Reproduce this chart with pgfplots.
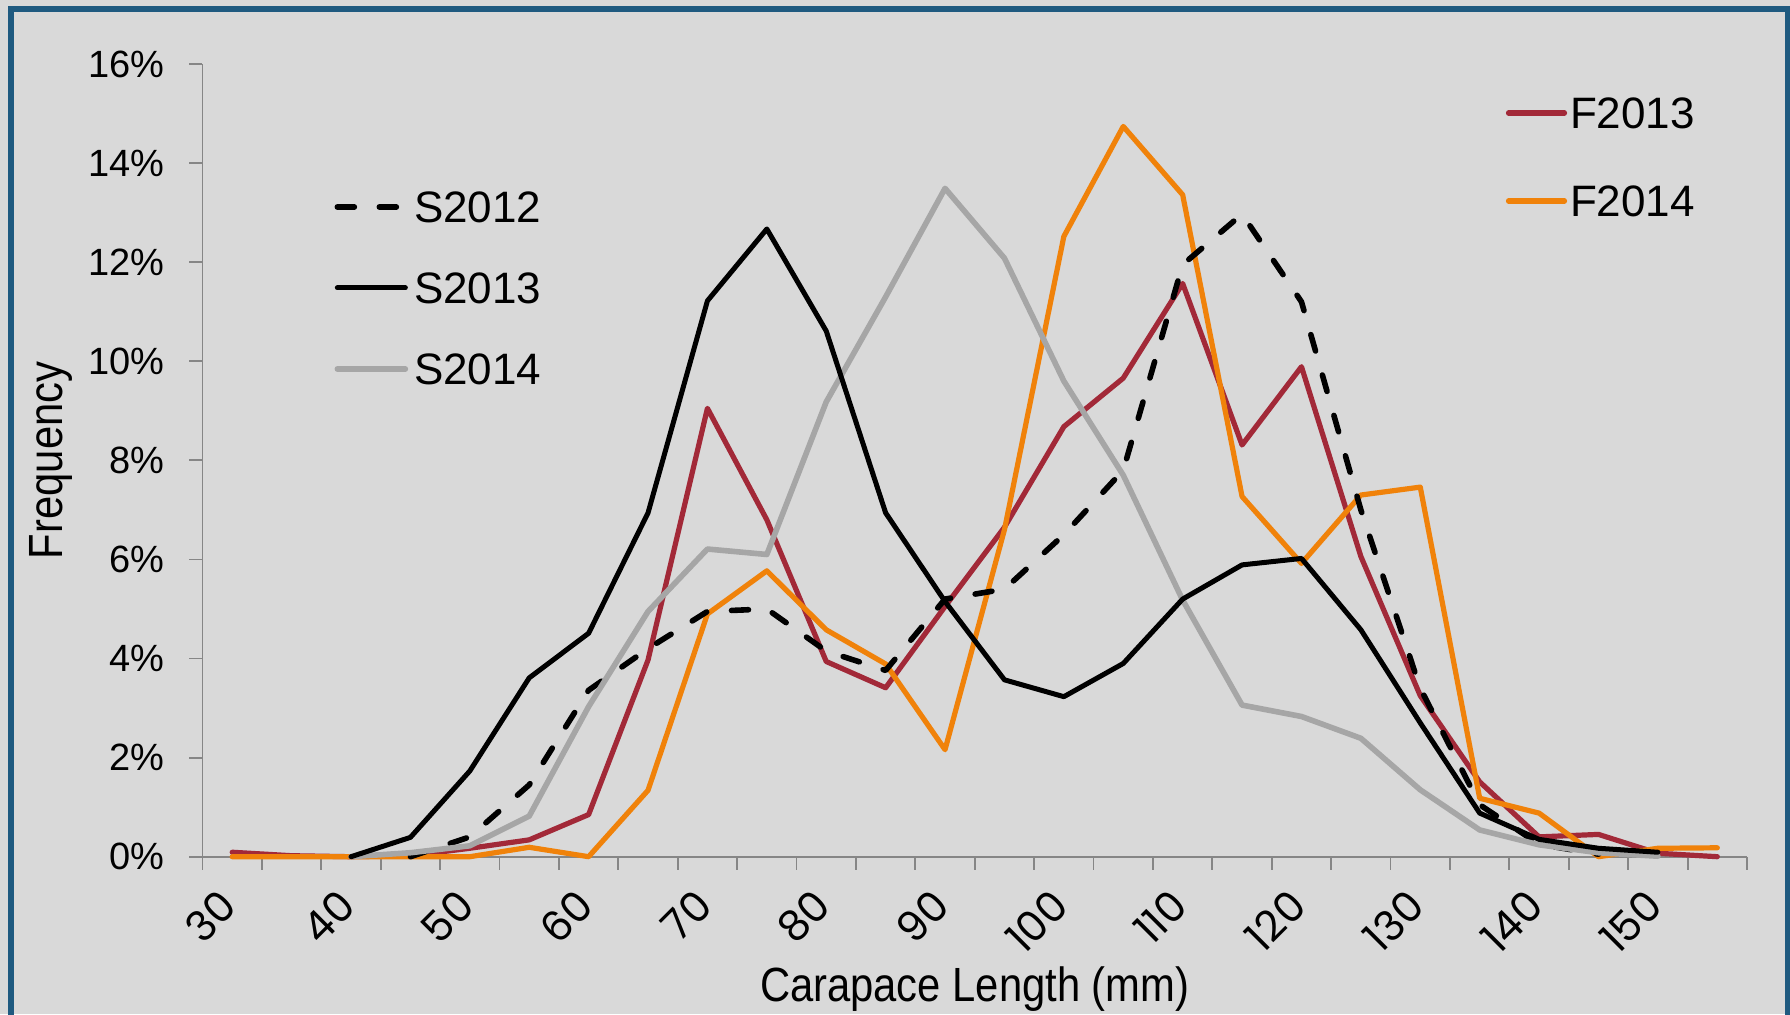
\documentclass[border=0pt]{standalone}
\usepackage{fontspec}
\setmainfont{Liberation Sans}
\newfontfamily\narrowfont{Liberation Sans}[FakeStretch=0.87]
\newfontfamily\popfont{Poppins}
\usepackage{pgfplots}
\pgfplotsset{compat=1.18}
\definecolor{bg}{RGB}{217,217,217}
\definecolor{framec}{RGB}{31,90,128}
\definecolor{axgray}{RGB}{134,134,134}
\definecolor{cred}{RGB}{162,41,56}
\definecolor{corange}{RGB}{240,130,10}
\definecolor{cgray}{RGB}{166,166,166}
\pgfplotsset{
  common/.style={
    at={(101.25pt,78.65pt)}, anchor=south west,
    scale only axis, width=772.25pt, height=396.35pt,
    xmin=27.5, xmax=157.5, ymin=0, ymax=16,
    clip=false,
  },
  legstyle/.style={
    draw=none, fill=none, inner sep=0pt, outer sep=0pt,
    font=\fontsize{22}{26}\selectfont,
    nodes={inner sep=0pt, outer sep=0pt, text height=15.2pt, text depth=0pt, anchor=west},
  },
}
\begin{document}
\begin{tikzpicture}
\useasboundingbox (0,0) rectangle (895pt,507pt);
\fill[bg] (0,0) rectangle (895pt,507pt);
\draw[framec, line width=3pt] (5.5pt,-20pt) rectangle (893.75pt,502.25pt);

% Axis A: decorations and F series
\begin{axis}[common,
  axis lines*=left,
  axis line style={axgray, line width=0.9pt},
  tick style={axgray, line width=0.9pt},
  tick align=outside,
  major tick length=6.5pt,
  xtick={27.5,32.5,...,157.5}, xticklabels={},
  extra x ticks={30,40,...,150},
  extra x tick labels={30,40,50,60,70,80,90,100,110,120,130,140,150},
  extra x tick style={tickwidth=0pt},
  xticklabel style={font=\popfont\fontsize{21}{24}\selectfont, inner sep=0pt, xshift=-1.7pt, yshift=-20.5pt, rotate=45, anchor=east},
  ytick={0,2,...,16},
  /pgf/number format/assume math mode=true,
  yticklabel={\pgfmathprintnumber{\tick}\%},
  yticklabel style={font=\fontsize{19}{22}\selectfont, inner sep=0pt, xshift=-12.5pt},
  xlabel={Carapace Length (mm)},
  xlabel style={font=\narrowfont\fontsize{24}{28}\selectfont, at={(axis description cs:0.5,-0.1829)}, anchor=base},
  ylabel={Frequency},
  ylabel style={font=\narrowfont\fontsize{24}{28}\selectfont, at={(axis description cs:-0.0978,0.5)}, anchor=center, rotate=0},
  legend style={legstyle, at={(axis description cs:0.8439,0.9574)}, anchor=north west, row sep=28.8pt, column sep=1.5pt},
  legend image code/.code={\draw[#1] (0pt,0pt) -- (28pt,0pt);},
  every axis plot/.append style={line join=round, line cap=round},
]
\addplot[cred, line width=2.6pt] coordinates {
(30,0.09)(35,0.02)(40,0)(45,0.02)(50,0.17)(55,0.34)(60,0.85)(65,3.97)(70,9.05)(75,6.8)(80,3.94)(85,3.41)(90,5.05)(95,6.65)(100,8.68)(105,9.66)(110,11.57)(115,8.31)(120,9.89)(125,6.06)(130,3.25)(135,1.51)(140,0.40)(145,0.45)(150,0.07)(155,0.0)};
\addlegendentry{F2013}
\addplot[corange, line width=2.6pt] coordinates {
(30,0)(35,0)(40,0)(45,0)(50,0)(55,0.19)(60,0)(65,1.34)(70,4.9)(75,5.77)(80,4.58)(85,3.89)(90,2.16)(95,6.6)(100,12.52)(105,14.74)(110,13.36)(115,7.27)(120,5.92)(125,7.30)(130,7.46)(135,1.18)(140,0.88)(145,0.0)(150,0.17)(155,0.18)};
\addlegendentry{F2014}
\end{axis}

% Axis B: S series
\begin{axis}[common, hide axis,
  legend style={legstyle, at={(axis description cs:0.0855,0.8388)}, anchor=north west, row sep=25.3pt, column sep=3pt},
  legend image code/.code={\draw[#1] (0pt,0pt) -- (34pt,0pt);},
  every axis plot/.append style={line join=round, line cap=round},
]
\addplot[black, line width=2.8pt, dash pattern=on 8.5pt off 12.5pt] coordinates {
(45,0)(50,0.4)(55,1.45)(60,3.36)(65,4.2)(70,4.95)(75,5.0)(80,4.15)(85,3.76)(90,5.2)(95,5.4)(100,6.5)(105,7.8)(110,11.95)(115,12.97)(120,11.2)(125,7.0)(130,3.4)(135,1.05)(140,0.25)(145,0.05)};
\addlegendentry{S2012}
\addplot[cgray, line width=2.8pt, forget plot] coordinates {
(40,0)(45,0.08)(50,0.22)(55,0.82)(60,3.03)(65,4.95)(70,6.21)(75,6.1)(80,9.18)(85,11.3)(90,13.49)(95,12.08)(100,9.6)(105,7.7)(110,5.18)(115,3.06)(120,2.83)(125,2.39)(130,1.35)(135,0.54)(140,0.24)(145,0.08)(150,0.01)};
\addplot[black, line width=2.5pt] coordinates {
(40,0)(45,0.39)(50,1.73)(55,3.61)(60,4.51)(65,6.94)(70,11.22)(75,12.67)(80,10.61)(85,6.94)(90,5.15)(95,3.57)(100,3.23)(105,3.9)(110,5.2)(115,5.89)(120,6.02)(125,4.58)(130,2.7)(135,0.88)(140,0.35)(145,0.17)(150,0.09)};
\addlegendentry{S2013}
\addlegendimage{cgray, line width=2.8pt, line cap=round}
\addlegendentry{S2014}
\end{axis}
\end{tikzpicture}
\end{document}
